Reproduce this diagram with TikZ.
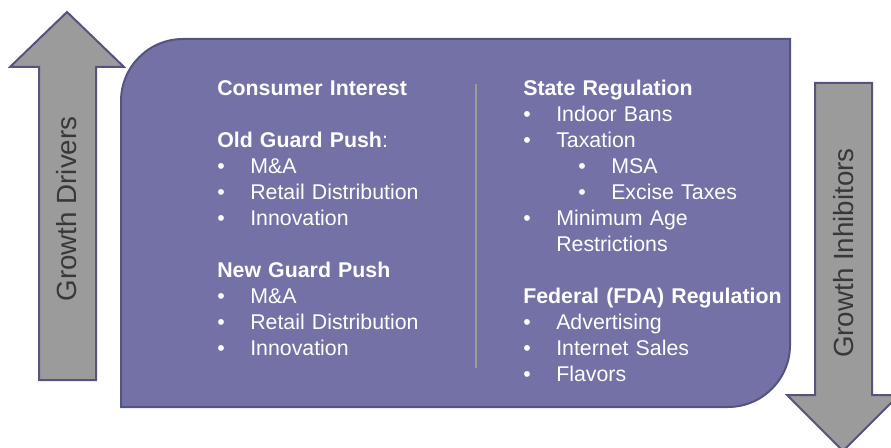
\documentclass[tikz,border=0pt]{standalone}
\usepackage{fontspec}
\setmainfont{Liberation Sans}
\usetikzlibrary{positioning}
\definecolor{cpanel}{HTML}{7471A6}
\definecolor{cedge}{HTML}{56537F}
\definecolor{carrow}{HTML}{9B9B9B}
\definecolor{crule}{HTML}{9C9C9C}
\definecolor{clabel}{HTML}{383838}
\newcommand{\itm}[1]{\makebox[24.75pt][l]{\textbullet}#1}
\newcommand{\subitm}[1]{\hspace*{41.25pt}\itm{#1}}
\tikzset{
  panel/.style={fill=cpanel, draw=cedge, line width=1.5pt},
  bigarrow/.style={fill=carrow, draw=cedge, line width=1.5pt, line join=miter},
  col/.style={anchor=base west, text width=200pt, align=left, inner sep=0pt,
              text=white, font=\fontsize{16}{19.5}\selectfont},
  side/.style={rotate=90, text=clabel, font=\fontsize{20.8}{24}\selectfont},
  sep/.style={draw=crule, line width=2pt}
}

\begin{document}
\begin{tikzpicture}[x=0.75pt, y=-0.75pt]

\useasboundingbox (0,0) rectangle (891,448);
\clip (0,0) rectangle (891,448);

% panel with two rounded corners
\path[panel] (121,407) -- (121,101)
  .. controls (121,66.8) and (148.8,39) .. (183,39)
  -- (790,39) -- (790,345)
  .. controls (790,379.2) and (762.2,407) .. (728,407) -- cycle;

% side arrows
\path[bigarrow] (39,380) -- (39,67) -- (10,67) -- (67,12)
  -- (124,67) -- (96,67) -- (96,380) -- cycle;
\path[bigarrow] (815,83) -- (815,395) -- (787,395) -- (843,451)
  -- (899,395) -- (872,395) -- (872,83) -- cycle;

\node[side] (drivers) at (67,209) {Growth Drivers};
\node[side] (inhibitors) at (844,253) {Growth Inhibitors};

\coordinate (septop) at (476,84);
\coordinate (sepbot) at (476,368);
\draw[sep] (septop) -- (sepbot);

\node[col] (push) at (217,96)
 {\textbf{Consumer Interest}\\[19.5pt]
  \textbf{Old Guard Push}:\\
  \itm{M\&A}\\
  \itm{Retail Distribution}\\
  \itm{Innovation}\\[19.5pt]
  \textbf{New Guard Push}\\
  \itm{M\&A}\\
  \itm{Retail Distribution}\\
  \itm{Innovation}};

\node[col] (regulation) at (523,96)
 {\textbf{State Regulation}\\
  \itm{Indoor Bans}\\
  \itm{Taxation}\\
  \subitm{MSA}\\
  \subitm{Excise Taxes}\\
  \itm{Minimum Age}\\
  \hspace*{24.75pt}Restrictions\\[19.5pt]
  \textbf{Federal (FDA) Regulation}\\
  \itm{Advertising}\\
  \itm{Internet Sales}\\
  \itm{Flavors}};

\end{tikzpicture}
\end{document}
